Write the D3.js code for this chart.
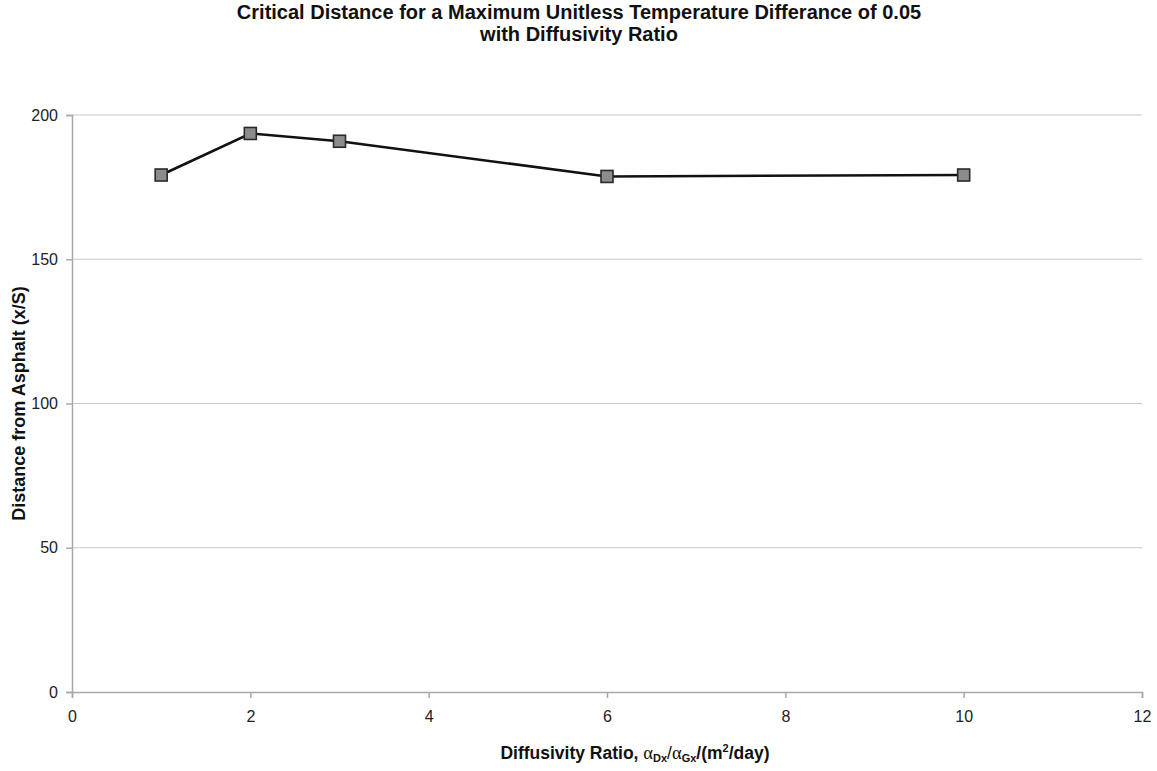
<!DOCTYPE html>
<html>
<head>
<meta charset="utf-8">
<script src="https://cdn.jsdelivr.net/npm/d3@7"></script>
<style>
  html, body { margin: 0; padding: 0; background: #fff; }
  svg { display: block; font-family: "Liberation Sans", Arial, sans-serif; }
</style>
</head>
<body>
<svg id="chart" width="1157" height="771"></svg>
<script>
// Diffusivity ratio vs. critical distance
const ratios = [1, 2, 3, 6, 10];
const distances = [179.2, 193.6, 190.9, 178.7, 179.2];
const xTicks = [0, 2, 4, 6, 8, 10, 12];
const yTicks = [0, 50, 100, 150, 200];

const svg = d3.select("#chart");
const margin = { left: 72, right: 15, top: 115, bottom: 79 };
const W = 1157, H = 771;

const x = d3.scaleLinear().domain([0, 12]).range([margin.left, W - margin.right]);
const y = d3.scaleLinear().domain([0, 200]).range([H - margin.bottom, margin.top]);

// horizontal gridlines
svg.append("g")
  .selectAll("line")
  .data(yTicks.filter(d => d > 0))
  .join("line")
  .attr("x1", x(0)).attr("x2", x(12))
  .attr("y1", d => y(d)).attr("y2", d => y(d))
  .attr("stroke", "#c8c8c8").attr("stroke-width", 1.2);

// y axis
const yAxis = svg.append("g")
  .attr("transform", `translate(${x(0)},0)`)
  .call(d3.axisLeft(y).tickValues(yTicks).tickSize(6).tickPadding(8));
// x axis
const xAxis = svg.append("g")
  .attr("transform", `translate(0,${y(0)})`)
  .call(d3.axisBottom(x).tickValues(xTicks).tickSize(6).tickPadding(13));

[yAxis, xAxis].forEach(g => {
  g.select(".domain").attr("stroke", "#a8a8a8").attr("stroke-width", 1.5);
  g.selectAll(".tick line").attr("stroke", "#a8a8a8").attr("stroke-width", 1.5);
  g.selectAll(".tick text").attr("fill", "#222").style("font-size", "16px")
    .style("font-family", "'Liberation Sans', Arial, sans-serif");
});

// data line
svg.append("path")
  .datum(ratios.map((r, i) => [r, distances[i]]))
  .attr("fill", "none")
  .attr("stroke", "#111")
  .attr("stroke-width", 2.6)
  .attr("d", d3.line().x(d => x(d[0])).y(d => y(d[1])));

// square markers
const s = 12;
svg.append("g")
  .selectAll("rect")
  .data(ratios.map((r, i) => [r, distances[i]]))
  .join("rect")
  .attr("x", d => x(d[0]) - s / 2)
  .attr("y", d => y(d[1]) - s / 2)
  .attr("width", s).attr("height", s)
  .attr("fill", "#8c8c8c")
  .attr("stroke", "#2a2a2a")
  .attr("stroke-width", 1.6);

// title
const title = svg.append("text")
  .attr("text-anchor", "middle")
  .attr("font-weight", "bold")
  .attr("font-size", "20px")
  .attr("fill", "#111");
title.append("tspan").attr("x", 579).attr("y", 19)
  .text("Critical Distance for a Maximum Unitless Temperature Differance of 0.05");
title.append("tspan").attr("x", 579).attr("y", 41)
  .text("with Diffusivity Ratio");

// y axis label
svg.append("text")
  .attr("transform", `translate(25,${(y(0) + y(200)) / 2}) rotate(-90)`)
  .attr("text-anchor", "middle")
  .attr("font-weight", "bold")
  .attr("font-size", "18px")
  .attr("fill", "#111")
  .text("Distance from Asphalt (x/S)");

// x axis label with Greek subscripts and superscript
const xl = svg.append("text")
  .attr("x", 635).attr("y", 759)
  .attr("text-anchor", "middle")
  .attr("font-weight", "bold")
  .attr("font-size", "17.5px")
  .attr("fill", "#111");
xl.append("tspan").text("Diffusivity Ratio, ");
xl.append("tspan").attr("font-weight", "normal").attr("font-family", "'Liberation Serif', serif").attr("font-size", "18.5px").text("α");
xl.append("tspan").attr("font-size", "11px").attr("dy", 3).text("Dx");
xl.append("tspan").attr("font-weight", "normal").attr("dy", -3).text("/");
xl.append("tspan").attr("font-weight", "normal").attr("font-family", "'Liberation Serif', serif").attr("font-size", "18.5px").text("α");
xl.append("tspan").attr("font-size", "11px").attr("dy", 3).text("Gx");
xl.append("tspan").attr("dy", -3).text("/(m");
xl.append("tspan").attr("font-size", "11px").attr("dy", -7).text("2");
xl.append("tspan").attr("dy", 7).text("/day)");
</script>
</body>
</html>
